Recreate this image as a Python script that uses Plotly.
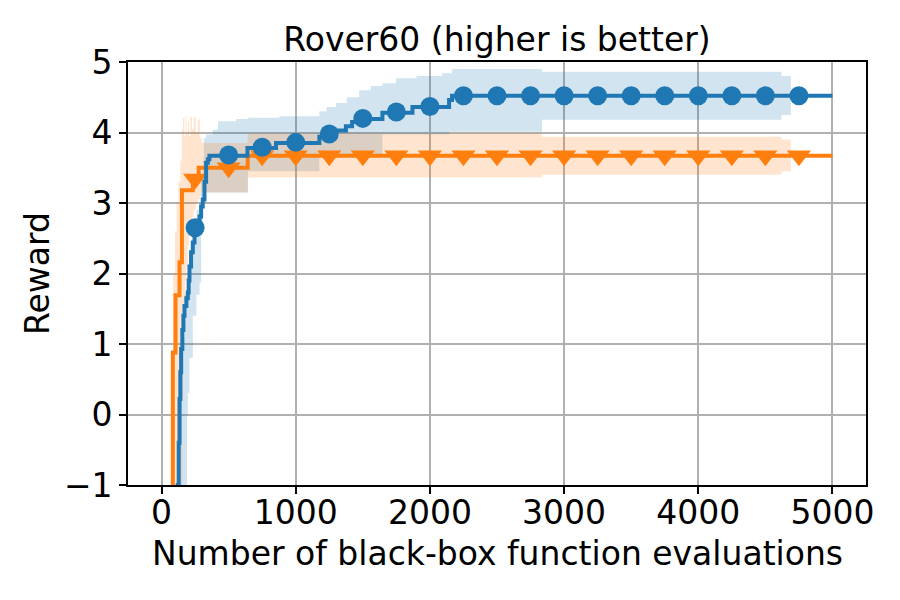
import plotly.graph_objs as go

# best-so-far mean reward (step curves)
blue_x = [117, 121, 128, 134, 140, 146, 155, 163, 171, 185, 196, 202, 208, 220, 233, 246,
          260, 283, 295, 307, 320, 332, 345, 357, 640, 853, 1176, 1215, 1300, 1374, 1420,
          1449, 1646, 1870, 2143, 2165, 5000]
blue_y = [-1.5, -1.0, -0.4, 0.22, 0.6, 0.93, 1.2, 1.4, 1.54, 1.65, 1.73, 1.9, 2.10, 2.3, 2.44,
          2.62, 2.70, 2.81, 2.95, 3.05, 3.3, 3.57, 3.62, 3.67, 3.78, 3.85, 3.94, 3.97, 4.03,
          4.09, 4.15, 4.19, 4.28, 4.36, 4.46, 4.52, 4.52]

orange_x = [80, 84, 104, 134, 152, 233, 277, 642, 5000]
orange_y = [-1.5, 0.88, 1.69, 2.16, 3.18, 3.34, 3.50, 3.67, 3.67]

# shaded bands
blue_band_x = [117, 121, 134, 146, 171, 190, 196, 208, 233, 260, 283, 295, 307, 315, 330,
               380, 420, 556, 645, 878, 1176, 1230, 1300, 1380, 1473, 1560, 1646, 1748,
               1900, 2090, 2143, 2165, 2835, 4620, 4690]
blue_upper = [-1.5, -0.5, 0.5, 1.1, 1.7, 1.8, 1.9, 2.3, 2.7, 2.9, 3.0, 3.3, 3.6, 3.92, 3.97,
              4.04, 4.16, 4.19, 4.21, 4.23, 4.30, 4.36, 4.42, 4.50, 4.60, 4.66, 4.70, 4.77,
              4.80, 4.84, 4.84, 4.90, 4.86, 4.80, 4.80]
blue_lower = [-1.5, -1.5, -1.5, -1.5, -1.2, 0.0, 0.3, 0.8, 1.4, 1.7, 1.87, 2.6, 3.0, 3.1, 3.15,
              3.15, 3.15, 3.15, 3.45, 3.45, 3.65, 3.65, 3.65, 3.65, 3.65, 3.65, 3.97, 3.97,
              3.97, 3.97, 4.01, 4.01, 4.18, 4.25, 4.25]

orange_band_x = [72, 80, 86, 100, 112, 125, 140, 152, 160, 170, 178, 186, 196, 205, 215, 228,
                 240, 255, 270, 285, 300, 642, 2835, 4620, 4690]
orange_upper = [-1.5, 0.5, 2.0, 2.6, 3.0, 3.3, 3.6, 4.05, 4.2, 3.95, 4.23, 4.0, 4.15, 3.95,
                4.22, 4.05, 4.22, 4.0, 4.18, 3.92, 3.85, 3.99, 3.94, 3.90, 3.90]
orange_lower = [-1.5, -1.5, -1.5, -1.5, -1.5, -1.4, -1.2, 0.2, 1.2, 1.6, 1.9, 2.1, 2.4, 2.55,
                2.7, 2.8, 2.9, 3.0, 3.05, 3.1, 3.15, 3.36, 3.40, 3.45, 3.45]

# markers every 250 evaluations
marker_x = [250, 500, 750, 1000, 1250, 1500, 1750, 2000, 2250, 2500, 2750, 3000, 3250,
            3500, 3750, 4000, 4250, 4500, 4750]
blue_marker_y = [2.65, 3.68, 3.79, 3.86, 3.98, 4.20, 4.29, 4.37, 4.52, 4.52, 4.52, 4.52,
                 4.52, 4.52, 4.52, 4.52, 4.52, 4.52, 4.52]
orange_marker_y = [3.34, 3.50, 3.67, 3.67, 3.67, 3.67, 3.67, 3.67, 3.67, 3.67, 3.67, 3.67,
                   3.67, 3.67, 3.67, 3.67, 3.67, 3.67, 3.67]

BLUE = "#1f77b4"
ORANGE = "#ff7f0e"


def band(x, lower, upper, fillcolor):
    lo = go.Scatter(x=x, y=lower, mode="lines", line=dict(width=0, shape="hv"),
                    hoverinfo="skip", showlegend=False)
    hi = go.Scatter(x=x, y=upper, mode="lines", line=dict(width=0, shape="hv"),
                    fill="tonexty", fillcolor=fillcolor, hoverinfo="skip", showlegend=False)
    return [lo, hi]


fig = go.Figure()
# blue band first, orange on top of it (gives the brownish overlap)
for tr in band(blue_band_x, blue_lower, blue_upper, "rgba(31,119,180,0.2)"):
    fig.add_trace(tr)
for tr in band(orange_band_x, orange_lower, orange_upper, "rgba(255,127,14,0.2)"):
    fig.add_trace(tr)

fig.add_trace(go.Scatter(x=orange_x, y=orange_y, mode="lines",
                         line=dict(color=ORANGE, width=4, shape="hv"), showlegend=False))
fig.add_trace(go.Scatter(x=marker_x, y=orange_marker_y, mode="markers",
                         marker=dict(symbol="triangle-down", size=21, color=ORANGE),
                         showlegend=False))
fig.add_trace(go.Scatter(x=blue_x, y=blue_y, mode="lines",
                         line=dict(color=BLUE, width=4, shape="hv"), showlegend=False))
fig.add_trace(go.Scatter(x=marker_x, y=blue_marker_y, mode="markers",
                         marker=dict(symbol="circle", size=19, color=BLUE),
                         showlegend=False))

font = dict(family="DejaVu Sans", size=33, color="black")
axis_style = dict(showline=True, mirror=True, linecolor="black", linewidth=1.6,
                  ticks="outside", ticklen=7, tickwidth=1.6, tickcolor="black",
                  showgrid=True, gridcolor="#b0b0b0", gridwidth=1.6, zeroline=False,
                  tickfont=font)

fig.update_layout(
    width=900, height=600,
    margin=dict(l=128, r=34, t=62, b=115),
    plot_bgcolor="white", paper_bgcolor="white",
    font=font,
    title=dict(text="Rover60 (higher is better)", x=0.5, xref="paper",
               y=0.935, yref="container", yanchor="middle", font=font),
)
fig.update_xaxes(range=[-250, 5250], tickvals=[0, 1000, 2000, 3000, 4000, 5000],
                 ticklabelstandoff=-9, **axis_style)
fig.update_yaxes(range=[-1, 5], dtick=1,
                 title=dict(text="Reward", font=font, standoff=4),
                 **axis_style)
# x title as an annotation so it sits exactly under the tick labels
fig.add_annotation(text="Number of black-box function evaluations", font=font,
                   xref="paper", yref="paper", x=0.5, y=-0.163,
                   xanchor="center", yanchor="middle", showarrow=False)

# drop the default page margin so the figure sits at the window corner
fig.write_html("out.html", config={"displayModeBar": False},
               post_script="document.body.style.margin='0px';")
